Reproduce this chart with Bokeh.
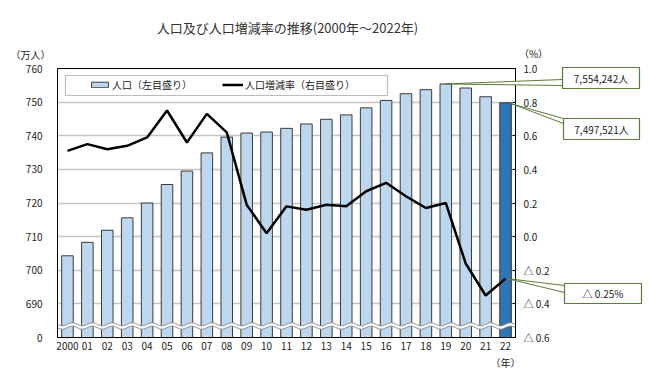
import numpy as np
from bokeh.plotting import figure
from bokeh.layouts import column
from bokeh.core.properties import value
from bokeh.models import (Range1d, LinearAxis, FixedTicker, CustomJSTickFormatter,
                          BoxAnnotation, Legend, LegendItem)
from bokeh.embed import file_html
from bokeh.resources import INLINE

# ---------------- data ----------------
year_labels = ["2000", "01", "02", "03", "04", "05", "06", "07", "08", "09", "10",
               "11", "12", "13", "14", "15", "16", "17", "18", "19", "20", "21", "22"]
population = [704.3, 708.3, 711.9, 715.6, 720.0, 725.5, 729.5, 734.9, 739.6, 740.8,
              741.1, 742.2, 743.5, 744.9, 746.2, 748.3, 750.5, 752.5, 753.7, 755.4,
              754.2, 751.6, 749.8]          # 万人
growth_rate = [0.51, 0.55, 0.52, 0.54, 0.59, 0.75, 0.56, 0.73, 0.62, 0.19,
               0.02, 0.18, 0.16, 0.19, 0.18, 0.27, 0.32, 0.24, 0.17, 0.20,
               -0.16, -0.35, -0.25]          # %
left_ticks = [680, 690, 700, 710, 720, 730, 740, 750, 760]
right_ticks = [-0.6, -0.4, -0.2, 0.0, 0.2, 0.4, 0.6, 0.8, 1.0]
peak_label = "7,554,242人"     # 2019
last_label = "7,497,521人"     # 2022
last_rate_label = "△ 0.25%"

title_text = "人口及び人口増減率の推移(2000年～2022年)"
legend_bar = "人口（左目盛り）"
legend_line = "人口増減率（右目盛り）"
unit_left = "（万人）"
unit_right = "（%）"
unit_x = "（年）"

FONT = "Noto Sans CJK JP"
TXT = "#222222"

# ---------------- layout ----------------
W, H = 650, 375
FL, FR, FT, FB = 57, 515, 68, 337
n = len(population)
XMIN, XMAX = -0.5, n - 0.5
YMIN, YMAX = left_ticks[0], left_ticks[-1]
RMIN, RMAX = right_ticks[0], right_ticks[-1]


def xd(px):
    return XMIN + (px - FL) * (XMAX - XMIN) / (FR - FL)


def yd(py):
    return YMAX - (py - FT) * (YMAX - YMIN) / (FB - FT)


def px_x(v):
    return FL + (v - XMIN) / (XMAX - XMIN) * (FR - FL)


def px_y(v):
    return FB - (v - YMIN) / (YMAX - YMIN) * (FB - FT)


def px_r(v):
    return FB - (v - RMIN) / (RMAX - RMIN) * (FB - FT)


p = figure(width=W, height=H, x_range=Range1d(XMIN, XMAX), y_range=Range1d(YMIN, YMAX),
           output_backend="svg", toolbar_location=None,
           min_border_left=FL, min_border_right=W - FR, min_border_top=FT,
           min_border_bottom=H - FB)
p.frame_align = False
p.extra_y_ranges = {"rate": Range1d(RMIN, RMAX)}
p.background_fill_color = "white"
p.border_fill_color = "white"
p.outline_line_color = "black"
p.outline_line_width = 1

p.xgrid.visible = False
p.ygrid.ticker = FixedTicker(ticks=left_ticks[1:-1])
p.ygrid.grid_line_color = "#c4c4c4"
p.ygrid.grid_line_width = 1.5

xs = list(range(n))
xa = p.xaxis[0]
xa.ticker = FixedTicker(ticks=xs)
xa.major_label_overrides = {i: lbl for i, lbl in enumerate(year_labels)}
xa.major_tick_in = 0
xa.major_tick_out = 0
xa.minor_tick_line_color = None
xa.axis_line_color = "black"
xa.major_label_standoff = 4
xa.major_label_text_font = FONT
xa.major_label_text_font_size = "10px"
xa.major_label_text_color = TXT

ya = p.yaxis[0]
ya.ticker = FixedTicker(ticks=left_ticks)
ya.formatter = CustomJSTickFormatter(code="return tick <= %d ? '0' : String(tick);" % YMIN)
ya.major_tick_in = 0
ya.major_tick_out = 0
ya.minor_tick_line_color = None
ya.axis_line_color = "black"
ya.major_label_standoff = 15
ya.major_label_text_font = FONT
ya.major_label_text_font_size = "10px"
ya.major_label_text_color = TXT

ra = LinearAxis(y_range_name="rate", ticker=FixedTicker(ticks=right_ticks),
                formatter=CustomJSTickFormatter(code="""
const v = Math.round(tick * 10) / 10;
return v < 0 ? '△ ' + (-v).toFixed(1) : v.toFixed(1);"""))
ra.major_tick_in = 3
ra.major_tick_out = 0
ra.minor_tick_line_color = None
ra.axis_line_color = "black"
ra.major_label_standoff = 8
ra.major_label_text_font = FONT
ra.major_label_text_font_size = "10px"
ra.major_label_text_color = TXT
p.add_layout(ra, "right")

bar_colors = ["#bdd7ee"] * (n - 1) + ["#2e75b6"]
bars = p.vbar(x=xs, top=population, bottom=YMIN, width=0.58, fill_color=bar_colors,
              line_color="#3a3a3a", line_width=1)

# axis break (wavy band)
wx = np.linspace(XMIN, XMAX, 800)
wave = 0.45 * np.sin(2 * np.pi * wx)
base = yd(325.5)
gap = 1.0
top_w = base + gap / 2 + wave
bot_w = base - gap / 2 + wave
p.patch(np.concatenate([wx, wx[::-1]]), np.concatenate([top_w, bot_w[::-1]]),
        fill_color="white", line_color=None)
p.line(wx, top_w, line_color="#808080", line_width=1)
p.line(wx, bot_w, line_color="#808080", line_width=1)

rline = p.line(xs, growth_rate, y_range_name="rate", line_color="black", line_width=2.5)

p.add_layout(BoxAnnotation(left=xd(65), right=xd(387), top=yd(75), bottom=yd(95),
                           fill_color="white", fill_alpha=1, line_color="#222222",
                           line_width=1.2))
legend = Legend(items=[LegendItem(label=legend_bar, renderers=[bars], index=0),
                       LegendItem(label=legend_line, renderers=[rline])],
                orientation="horizontal", location=(30, FB - 94),
                border_line_alpha=0, background_fill_alpha=0,
                glyph_width=21, glyph_height=7, label_standoff=2, spacing=30,
                padding=2, margin=0, label_height=12,
                label_text_font=FONT, label_text_font_size="10px", label_text_color=TXT)
p.add_layout(legend)

# ---------------- overlay (title, units, callouts) in pixel space ----------------
o = figure(width=W, height=H, x_range=Range1d(0, W), y_range=Range1d(H, 0),
           output_backend="svg", toolbar_location=None, min_border=0,
           x_axis_location=None, y_axis_location=None)
o.frame_align = False
o.outline_line_color = None
o.background_fill_color = None
o.border_fill_color = None
o.grid.visible = False
o.styles = {"position": "absolute", "left": "0px", "top": "0px", "pointer-events": "none"}

CO = "#5e7a3a"
i_peak = int(np.argmax(population))
i_last = n - 1

callouts = [
    # tip (px), box (x0, x1, y0, y1), wedge base y's, text
    ((px_x(i_peak), px_y(population[i_peak])), (562, 639, 67, 88), (79, 85), peak_label),
    ((px_x(i_last + 0.3), px_y(population[i_last]) + 1), (563, 639, 118, 139), (118, 123), last_label),
    ((px_x(i_last + 0.1), px_r(growth_rate[-1])), (564, 641, 283, 303), (285, 292), last_rate_label),
]
for (tx, ty), (bx0, bx1, by0, by1), (wy0, wy1), txt in callouts:
    o.patch([tx, bx0, bx0], [ty, wy0, wy1], fill_color="white", line_color=CO, line_width=1)
    o.quad(left=bx0, right=bx1, top=by0, bottom=by1, fill_color="white",
           line_color=CO, line_width=1.2)
    o.text(x=[(bx0 + bx1) / 2], y=[(by0 + by1) / 2], text=[txt], text_align="center",
           text_baseline="middle", text_font=value(FONT), text_font_size="10px",
           text_color=TXT)

o.text(x=[287], y=[27], text=[title_text], text_align="center", text_baseline="middle",
       text_font=value(FONT), text_font_size="13px", text_color="#333333")
o.text(x=[30, 533, 505], y=[54, 53, 362], text=[unit_left, unit_right, unit_x],
       text_align="center", text_baseline="middle", text_font=value(FONT),
       text_font_size="10px", text_color=TXT)

root = column(p, o)
root.styles = {"position": "relative"}

open("out.html", "w").write(file_html(root, INLINE))
